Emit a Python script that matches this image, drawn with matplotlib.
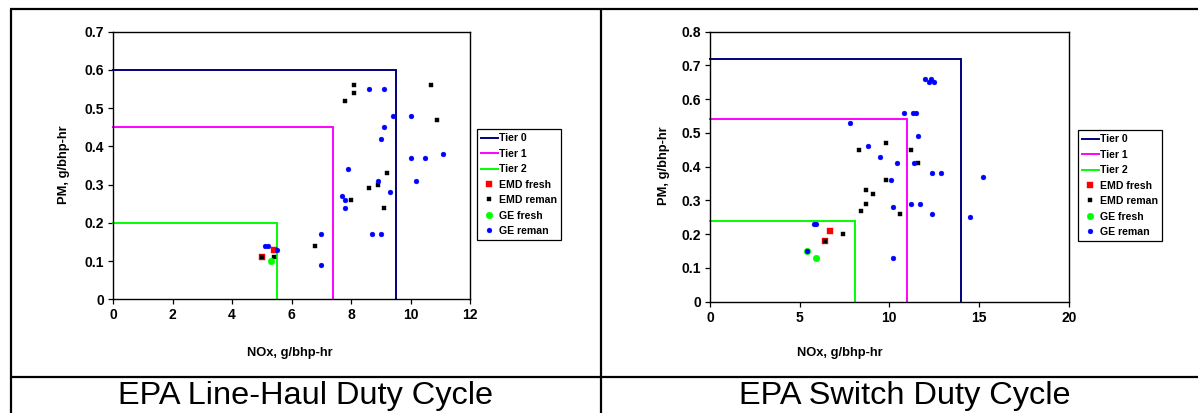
import matplotlib
matplotlib.use("Agg")
import matplotlib.pyplot as plt
from matplotlib.lines import Line2D

plt.rcParams['font.family'] = ['Liberation Sans', 'DejaVu Sans']

# ---------------- data ----------------
tier_labels = ["Tier 0", "Tier 1", "Tier 2"]
tier_colors = ["#000080", "#FF00FF", "#00FF00"]

# EPA Line-Haul Duty Cycle
lh_tier_x = [9.5, 7.4, 5.5]
lh_tier_y = [0.60, 0.45, 0.20]
lh_emd_fresh_x = [5.0, 5.4]
lh_emd_fresh_y = [0.11, 0.13]
lh_emd_reman_x = [8.1, 8.1, 7.8, 10.7, 10.9, 9.2, 8.6, 8.9, 8.0, 9.1, 6.8, 5.4, 5.0]
lh_emd_reman_y = [0.56, 0.54, 0.52, 0.56, 0.47, 0.33, 0.29, 0.30, 0.26, 0.24, 0.14, 0.11, 0.11]
lh_ge_fresh_x = [5.3]
lh_ge_fresh_y = [0.10]
lh_ge_reman_x = [8.6, 9.1, 9.4, 10.0, 9.1, 9.0, 10.0, 10.5, 11.1, 7.9, 8.9, 10.2,
                 9.3, 7.7, 7.8, 7.8, 7.0, 8.7, 9.0, 7.0, 5.1, 5.2, 5.5]
lh_ge_reman_y = [0.55, 0.55, 0.48, 0.48, 0.45, 0.42, 0.37, 0.37, 0.38, 0.34, 0.31, 0.31,
                 0.28, 0.27, 0.26, 0.24, 0.17, 0.17, 0.17, 0.09, 0.14, 0.14, 0.13]

# EPA Switch Duty Cycle
sw_tier_x = [14.0, 11.0, 8.1]
sw_tier_y = [0.72, 0.54, 0.24]
sw_emd_fresh_x = [6.7, 6.4]
sw_emd_fresh_y = [0.21, 0.18]
sw_emd_reman_x = [9.8, 8.3, 11.2, 11.6, 9.8, 8.7, 9.1, 8.7, 8.4, 10.6, 7.4, 6.4]
sw_emd_reman_y = [0.47, 0.45, 0.45, 0.41, 0.36, 0.33, 0.32, 0.29, 0.27, 0.26, 0.20, 0.18]
sw_ge_fresh_x = [5.4, 5.9]
sw_ge_fresh_y = [0.15, 0.13]
sw_ge_reman_x = [12.0, 12.3, 12.2, 12.5, 10.8, 11.3, 11.5, 7.8, 11.6, 8.8, 9.5, 10.4, 11.4,
                 12.4, 12.9, 15.2, 10.1, 10.2, 11.2, 11.7, 12.4, 14.5, 10.2, 5.8, 5.9, 5.4]
sw_ge_reman_y = [0.66, 0.66, 0.65, 0.65, 0.56, 0.56, 0.56, 0.53, 0.49, 0.46, 0.43, 0.41, 0.41,
                 0.38, 0.38, 0.37, 0.36, 0.28, 0.29, 0.29, 0.26, 0.25, 0.13, 0.23, 0.23, 0.15]

lh_xticks = [0, 2, 4, 6, 8, 10, 12]
lh_yticks = [0, 0.1, 0.2, 0.3, 0.4, 0.5, 0.6, 0.7]
lh_yticklabels = ["0", "0.1", "0.2", "0.3", "0.4", "0.5", "0.6", "0.7"]
sw_xticks = [0, 5, 10, 15, 20]
sw_yticks = [0, 0.1, 0.2, 0.3, 0.4, 0.5, 0.6, 0.7, 0.8]
sw_yticklabels = ["0", "0.1", "0.2", "0.3", "0.4", "0.5", "0.6", "0.7", "0.8"]

captions = ["EPA Line-Haul Duty Cycle", "EPA Switch Duty Cycle"]
xlabel = "NOx, g/bhp-hr"
ylabel = "PM, g/bhp-hr"

# ---------------- figure ----------------
W, H = 1198, 413
fig = plt.figure(figsize=(W / 100, H / 100), dpi=100)


def fx(px):
    return px / W


def fy(py):
    return 1 - py / H


def draw_chart(ax, tier_x, tier_y, efx, efy, erx, ery, gfx, gfy, grx, gry,
               xticks, yticks, yticklabels):
    for tx, ty, lab, col in zip(tier_x, tier_y, tier_labels, tier_colors):
        ax.plot([0, tx, tx], [ty, ty, 0], color=col, lw=1.4, label=lab,
                solid_joinstyle='miter', clip_on=False, zorder=2)
    ax.plot(efx, efy, ls='none', marker='s', ms=4.5, mfc='#FF0000', mec='#FF0000',
            mew=0.3, label="EMD fresh", zorder=3)
    ax.plot(erx, ery, ls='none', marker='s', ms=3.4, mfc='black', mec='black',
            mew=0.3, label="EMD reman", zorder=4)
    ax.plot(gfx, gfy, ls='none', marker='o', ms=4.8, mfc='#00FF00', mec='#00FF00',
            mew=0.3, label="GE fresh", zorder=5)
    ax.plot(grx, gry, ls='none', marker='o', ms=3.5, mfc='#0000FF', mec='#0000FF',
            mew=0.3, label="GE reman", zorder=6)
    ax.set_xlim(xticks[0], xticks[-1])
    ax.set_ylim(yticks[0], yticks[-1])
    ax.set_xticks(xticks)
    ax.set_xticklabels([str(t) for t in xticks])
    ax.set_yticks(yticks)
    ax.set_yticklabels(yticklabels)
    for lab in ax.get_xticklabels() + ax.get_yticklabels():
        lab.set_fontweight('bold')
        lab.set_fontsize(10)
    ax.tick_params(direction='out', length=3.5, width=0.9, pad=3, colors='black')
    for s in ax.spines.values():
        s.set_linewidth(1.0)
        s.set_color('black')


# left chart
axL = fig.add_axes([fx(113), fy(299.3), fx(470) - fx(113), fy(31.7) - fy(299.3)])
draw_chart(axL, lh_tier_x, lh_tier_y, lh_emd_fresh_x, lh_emd_fresh_y,
           lh_emd_reman_x, lh_emd_reman_y, lh_ge_fresh_x, lh_ge_fresh_y,
           lh_ge_reman_x, lh_ge_reman_y, lh_xticks, lh_yticks, lh_yticklabels)

# right chart
axR = fig.add_axes([fx(710), fy(301.7), fx(1068.7) - fx(710), fy(31.7) - fy(301.7)])
draw_chart(axR, sw_tier_x, sw_tier_y, sw_emd_fresh_x, sw_emd_fresh_y,
           sw_emd_reman_x, sw_emd_reman_y, sw_ge_fresh_x, sw_ge_fresh_y,
           sw_ge_reman_x, sw_ge_reman_y, sw_xticks, sw_yticks, sw_yticklabels)

# legends
for ax, (lx, ly) in [(axL, (477, 129)), (axR, (1078, 130))]:
    leg = ax.legend(loc='upper left', bbox_to_anchor=(fx(lx), fy(ly)),
                    bbox_transform=fig.transFigure, borderaxespad=0,
                    fancybox=False, framealpha=1, edgecolor='black',
                    prop={'weight': 'bold', 'size': 7.6},
                    handlelength=1.55, handletextpad=0.15, labelspacing=0.52,
                    borderpad=0.4)
    leg.get_frame().set_linewidth(0.9)

# axis labels
lab_kw = dict(fontsize=9.3, fontweight='bold', ha='center', va='center')
fig.text(fx(290), fy(353), xlabel, **lab_kw)
fig.text(fx(840), fy(353), xlabel, **lab_kw)
fig.text(fx(64), fy(165), ylabel, rotation=90, **lab_kw)
fig.text(fx(664), fy(166), ylabel, rotation=90, **lab_kw)

# captions
fig.text(fx(306), fy(396), captions[0], fontsize=23.4, ha='center', va='center')
fig.text(fx(905), fy(396), captions[1], fontsize=23.4, ha='center', va='center')

# table lines
tbl_kw = dict(color='black', lw=1.6, transform=fig.transFigure, solid_capstyle='butt')
fig.add_artist(Line2D([fx(11), fx(11)], [fy(9), 0], **tbl_kw))
fig.add_artist(Line2D([fx(601), fx(601)], [fy(9), 0], **tbl_kw))
fig.add_artist(Line2D([fx(10), 1], [fy(9), fy(9)], **tbl_kw))
fig.add_artist(Line2D([fx(10), 1], [fy(377), fy(377)], **tbl_kw))

fig.savefig("out.png", dpi=100)
